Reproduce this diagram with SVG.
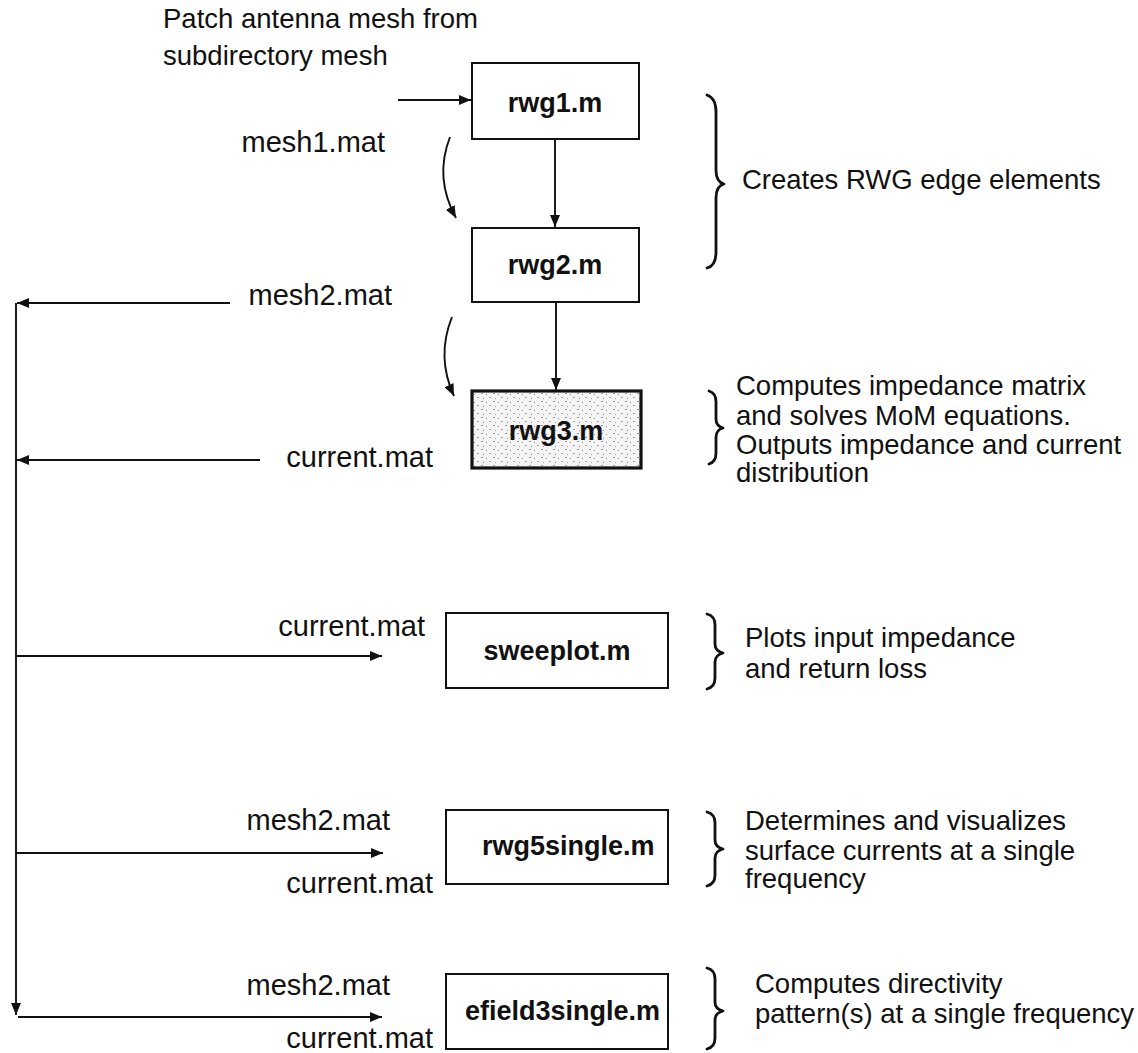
<svg xmlns="http://www.w3.org/2000/svg" width="1138" height="1053" viewBox="0 0 1138 1053">
  <style>
    .lbl { font-family: "Liberation Sans", Arial, sans-serif; font-size: 27.5px; fill: #111; }
    .file { font-family: "Liberation Sans", Arial, sans-serif; font-size: 29px; fill: #111; text-anchor: end; }
    .name { font-family: "Liberation Sans", Arial, sans-serif; font-size: 27px; font-weight: bold; fill: #111; }
    .box { fill: #fff; stroke: #111; stroke-width: 2; }
    .wire { fill: none; stroke: #111; stroke-width: 1.9; }
    .brace { fill: none; stroke: #111; stroke-width: 2.8; stroke-linejoin: round; stroke-linecap: round; }
  </style>
  <defs>
    <marker id="arrow" viewBox="0 0 12 10" refX="12" refY="5" markerWidth="12" markerHeight="10" markerUnits="userSpaceOnUse" orient="auto">
      <path d="M0,0 L12,5 L0,10 Z" fill="#111"/>
    </marker>
    <!-- halftone texture for the highlighted solver box -->
    <pattern id="halftone" width="12" height="8" patternUnits="userSpaceOnUse">
      <rect width="12" height="8" fill="#f4f4f4"/>
      <rect x="1" y="1" width="2" height="1" fill="#9a9a9a"/>
      <rect x="6" y="2" width="1" height="1" fill="#8a8a8a"/>
      <rect x="9" y="5" width="2" height="1" fill="#a0a0a0"/>
      <rect x="3" y="6" width="1" height="1" fill="#9a9a9a"/>
    </pattern>
  </defs>

  <rect width="1138" height="1053" fill="#fff"/>

  <!-- input description -->
  <text class="lbl" x="163" y="28">Patch antenna mesh from</text>
  <text class="lbl" x="163" y="65">subdirectory mesh</text>

  <!-- connectors -->
  <g id="connectors">
    <line class="wire" x1="398" y1="100" x2="471" y2="100" marker-end="url(#arrow)"/>
    <line class="wire" x1="555" y1="139" x2="555" y2="227" marker-end="url(#arrow)"/>
    <line class="wire" x1="556" y1="302" x2="556" y2="390" marker-end="url(#arrow)"/>
    <path class="wire" d="M450,137 Q434,178 456,218" marker-end="url(#arrow)"/>
    <path class="wire" d="M452,317 Q436,357 454,396" marker-end="url(#arrow)"/>
    <!-- outputs gathered on the left bus -->
    <line class="wire" x1="230" y1="303" x2="17" y2="303" marker-end="url(#arrow)"/>
    <line class="wire" x1="260" y1="460" x2="17" y2="460" marker-end="url(#arrow)"/>
    <line class="wire" x1="16" y1="303" x2="16" y2="1015" marker-end="url(#arrow)"/>
    <!-- bus feeding the post-processing scripts -->
    <line class="wire" x1="16" y1="656" x2="382" y2="656" marker-end="url(#arrow)"/>
    <line class="wire" x1="16" y1="853" x2="383" y2="853" marker-end="url(#arrow)"/>
    <line class="wire" x1="18" y1="1017" x2="382" y2="1017" marker-end="url(#arrow)"/>
  </g>

  <!-- data file labels -->
  <text class="file" x="385" y="152">mesh1.mat</text>
  <text class="file" x="392" y="305">mesh2.mat</text>
  <text class="file" x="433" y="467">current.mat</text>
  <text class="file" x="425" y="636">current.mat</text>
  <text class="file" x="390" y="830">mesh2.mat</text>
  <text class="file" x="433" y="893">current.mat</text>
  <text class="file" x="390" y="995">mesh2.mat</text>
  <text class="file" x="433" y="1048">current.mat</text>

  <!-- script nodes -->
  <g id="rwg1">
    <rect class="box" x="472" y="63" width="167" height="76"/>
    <text class="name" x="555" y="112" text-anchor="middle">rwg1.m</text>
  </g>
  <g id="rwg2">
    <rect class="box" x="472" y="228" width="167" height="74"/>
    <text class="name" x="555" y="274" text-anchor="middle">rwg2.m</text>
  </g>
  <g id="rwg3">
    <rect x="472" y="391" width="169" height="77" fill="url(#halftone)" stroke="#111" stroke-width="3.2"/>
    <text class="name" x="556" y="440" text-anchor="middle">rwg3.m</text>
  </g>
  <g id="sweeplot">
    <rect class="box" x="446" y="613" width="222" height="75"/>
    <text class="name" x="557" y="660" text-anchor="middle">sweeplot.m</text>
  </g>
  <g id="rwg5single">
    <rect class="box" x="446" y="810" width="222" height="74"/>
    <text class="name" x="482" y="855">rwg5single.m</text>
  </g>
  <g id="efield3single">
    <rect class="box" x="446" y="974" width="222" height="75"/>
    <text class="name" x="465" y="1020">efield3single.m</text>
  </g>

  <!-- braces and descriptions -->
  <g id="desc-rwg12">
    <path class="brace" d="M707,95 Q716,98 716,112 L716,170 Q716,182 724,184 Q716,186 716,198 L716,252 Q716,266 707,268"/>
    <text class="lbl" x="742" y="189">Creates RWG edge elements</text>
  </g>
  <g id="desc-rwg3">
    <path class="brace" d="M709,391 Q716,393 716,402 L716,419 Q716,426 723,428 Q716,430 716,437 L716,453 Q716,462 709,464"/>
    <text class="lbl" x="736" y="395">Computes impedance matrix</text>
    <text class="lbl" x="736" y="425">and solves MoM equations.</text>
    <text class="lbl" x="736" y="454">Outputs impedance and current</text>
    <text class="lbl" x="736" y="482">distribution</text>
  </g>
  <g id="desc-sweeplot">
    <path class="brace" d="M707,614 Q715,616 715,625 L715,644 Q715,651 723,653 Q715,655 715,662 L715,678 Q715,687 707,689"/>
    <text class="lbl" x="745" y="647">Plots input impedance</text>
    <text class="lbl" x="745" y="678">and return loss</text>
  </g>
  <g id="desc-rwg5single">
    <path class="brace" d="M707,812 Q715,814 715,823 L715,840 Q715,847 723,849 Q715,851 715,858 L715,875 Q715,884 707,886"/>
    <text class="lbl" x="745" y="830">Determines and visualizes</text>
    <text class="lbl" x="745" y="860">surface currents at a single</text>
    <text class="lbl" x="745" y="888">frequency</text>
  </g>
  <g id="desc-efield3single">
    <path class="brace" d="M707,968 Q715,970 715,979 L715,1002 Q715,1009 723,1011 Q715,1013 715,1020 L715,1038 Q715,1047 707,1049"/>
    <text class="lbl" x="755" y="993">Computes directivity</text>
    <text class="lbl" x="755" y="1023">pattern(s) at a single frequency</text>
  </g>
</svg>
